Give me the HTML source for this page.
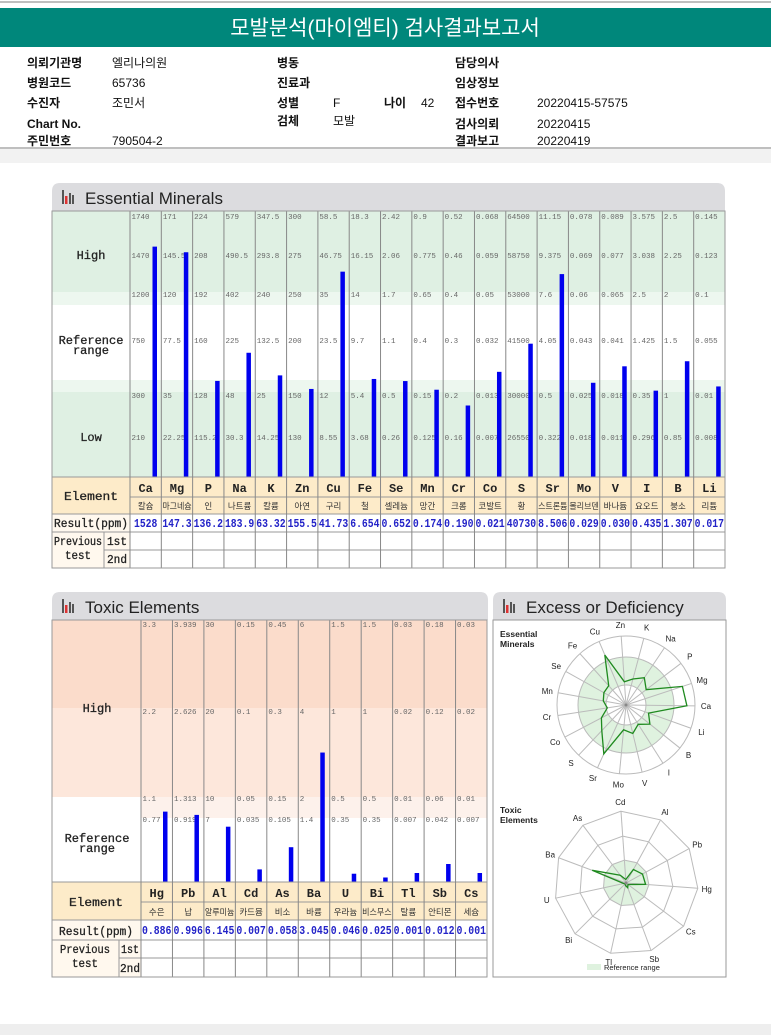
<!DOCTYPE html>
<html><head><meta charset="utf-8">
<style>
html,body{margin:0;padding:0;background:#fff;width:771px;height:1035px;overflow:hidden}
svg{display:block}
</style></head>
<body>
<svg id="root" width="771" height="1035" xmlns="http://www.w3.org/2000/svg" font-family="'Liberation Sans','Noto Sans CJK KR',sans-serif">
<rect x="0" y="0" width="771" height="1035" fill="#fff"/>
<line x1="0" y1="2" x2="771" y2="2" stroke="#aaa" stroke-width="1.5"/>
<rect x="0" y="8" width="771" height="39" fill="#00877b"/>
<text x="385" y="35" fill="#fff" font-size="21" text-anchor="middle" font-family="'Liberation Sans','Noto Sans CJK KR',sans-serif">모발분석(마이엠티) 검사결과보고서</text>
<g id="info" font-size="12" fill="#111"></g>
<line x1="0" y1="148" x2="771" y2="148" stroke="#aaa" stroke-width="1.5"/>
<rect x="0" y="149" width="771" height="14" fill="#f2f2f2"/>
<rect x="0" y="1024" width="771" height="11" fill="#eeeeee"/>
<g id="ess"></g>
<g id="tox"></g>
<g id="radar"></g>
</svg>
<script>
// ===== Essential minerals data =====
const essSymbols = ["Ca","Mg","P","Na","K","Zn","Cu","Fe","Se","Mn","Cr","Co","S","Sr","Mo","V","I","B","Li"];
const essKorean = ["칼슘","마그네슘","인","나트륨","칼륨","아연","구리","철","셀레늄","망간","크롬","코발트","황","스트론튬","몰리브덴","바나듐","요오드","붕소","리튬"];
const essTicks = [
 ["1740","1470","1200","750","300","210"],
 ["171","145.5","120","77.5","35","22.25"],
 ["224","208","192","160","128","115.2"],
 ["579","490.5","402","225","48","30.3"],
 ["347.5","293.8","240","132.5","25","14.25"],
 ["300","275","250","200","150","130"],
 ["58.5","46.75","35","23.5","12","8.55"],
 ["18.3","16.15","14","9.7","5.4","3.68"],
 ["2.42","2.06","1.7","1.1","0.5","0.26"],
 ["0.9","0.775","0.65","0.4","0.15","0.125"],
 ["0.52","0.46","0.4","0.3","0.2","0.16"],
 ["0.068","0.059","0.05","0.032","0.013","0.007"],
 ["64500","58750","53000","41500","30000","26550"],
 ["11.15","9.375","7.6","4.05","0.5","0.322"],
 ["0.078","0.069","0.06","0.043","0.025","0.018"],
 ["0.089","0.077","0.065","0.041","0.018","0.011"],
 ["3.575","3.038","2.5","1.425","0.35","0.296"],
 ["2.5","2.25","2","1.5","1","0.85"],
 ["0.145","0.123","0.1","0.055","0.01","0.008"]
];
const essResults = ["1528","147.3","136.2","183.9","63.32","155.5","41.73","6.654","0.652","0.174","0.190","0.021","40730","8.506","0.029","0.030","0.435","1.307","0.017"];

// ===== Toxic elements data =====
const toxSymbols = ["Hg","Pb","Al","Cd","As","Ba","U","Bi","Tl","Sb","Cs"];
const toxKorean = ["수은","납","알루미늄","카드뮴","비소","바륨","우라늄","비스무스","탈륨","안티몬","세슘"];
const toxTicks = [
 ["3.3","2.2","1.1","0.77"],
 ["3.939","2.626","1.313","0.919"],
 ["30","20","10","7"],
 ["0.15","0.1","0.05","0.035"],
 ["0.45","0.3","0.15","0.105"],
 ["6","4","2","1.4"],
 ["1.5","1","0.5","0.35"],
 ["1.5","1","0.5","0.35"],
 ["0.03","0.02","0.01","0.007"],
 ["0.18","0.12","0.06","0.042"],
 ["0.03","0.02","0.01","0.007"]
];
const toxResults = ["0.886","0.996","6.145","0.007","0.058","3.045","0.046","0.025","0.001","0.012","0.001"];

// radar axis orders (clockwise from top)
const essRadarOrder = ["Zn","K","Na","P","Mg","Ca","Li","B","I","V","Mo","Sr","S","Co","Cr","Mn","Se","Fe","Cu"];
const toxRadarOrder = ["Cd","Al","Pb","Hg","Cs","Sb","Tl","Bi","U","Ba","As"];

const NS = "http://www.w3.org/2000/svg";
function mk(tag, attrs, parent){const e=document.createElementNS(NS,tag);for(const k in attrs)e.setAttribute(k,attrs[k]);parent.appendChild(e);return e;}
function txt(s, attrs, parent){const e=mk("text",attrs,parent);e.textContent=s;return e;}
const MONO="'Liberation Mono','Noto Sans CJK KR',monospace";
const KR="'Liberation Sans','Noto Sans CJK KR',sans-serif";

// ===== Info block =====
const info=document.getElementById("info");
const infoItems=[
 ["의뢰기관명",27,63,true],["엘리나의원",112,63,false],["병동",277,63,true],["담당의사",455,63,true],
 ["병원코드",27,83,true],["65736",112,83,false],["진료과",277,83,true],["임상정보",455,83,true],
 ["수진자",27,103,true],["조민서",112,103,false],["성별",277,103,true],["F",333,103,false],["나이",384,103,true],["42",421,103,false],["접수번호",455,103,true],["20220415-57575",537,103,false],
 ["Chart No.",27,124,true],["검체",277,121,true],["모발",333,121,false],["검사의뢰",455,124,true],["20220415",537,124,false],
 ["주민번호",27,141,true],["790504-2",112,141,false],["결과보고",455,141,true],["20220419",537,141,false]
];
infoItems.forEach(it=>{
 const t=txt(it[0],{x:it[1],y:it[2]+4,"font-size":12,"font-weight":it[3]?"bold":"normal","font-family":KR,fill:"#111"},info);
 
 
});

// ===== panel header helper =====
function panelHeader(g,x,y,w,h,title,name){
 const p=mk("path",{d:`M${x} ${y+h} L${x} ${y+8} Q${x} ${y} ${x+8} ${y} L${x+w-8} ${y} Q${x+w} ${y} ${x+w} ${y+8} L${x+w} ${y+h} Z`,fill:"#dcdcdf"},g);
 
 
 mk("rect",{x:x+10,y:y+7,width:2,height:14,fill:"#555"},g);
 mk("rect",{x:x+13,y:y+13,width:2.5,height:8,fill:"#d33"},g);
 mk("rect",{x:x+17,y:y+10,width:2,height:11,fill:"#555"},g);
 mk("rect",{x:x+20,y:y+12,width:2,height:9,fill:"#555"},g);
 const t=txt(title,{x:x+33,y:y+21,"font-size":17,fill:"#222","font-family":KR},g);
 
 
}
function fit(t,w){t.setAttribute("textLength",w);t.setAttribute("lengthAdjust","spacingAndGlyphs");}

// ===== Essential chart =====
const eg=document.getElementById("ess");
panelHeader(eg,52,183,673,28,"Essential Minerals","essential-minerals");
const E={x0:52,lx:130,rx:725,top:211,bot:477,lev:[216,255,294,340,395,437]};
const ecw=(E.rx-E.lx)/essSymbols.length;
[[211,292,"#dff0e3"],[292,305,"#edf7ef"],[305,380,"#ffffff"],[380,392,"#edf7ef"],[392,477,"#dff0e3"]].forEach(b=>{
 const r=mk("rect",{x:E.x0,y:b[0],width:E.rx-E.x0,height:b[1]-b[0],fill:b[2]},eg);
 
 
});
[["High",255],["Reference",340],["range",350],["Low",437]].forEach(l=>{
 const t=txt(l[0],{x:91,y:l[1]+4,"font-size":12,"font-family":MONO,"text-anchor":"middle",fill:"#222","stroke":"#222","stroke-width":0.3},eg);
 
 
});
function essY(i,v){
 const t=essTicks[i].map(Number), L=E.lev;
 if(v>=t[0]) return Math.max(E.top, L[0]-(v-t[0])/(t[0]-t[1])*(L[1]-L[0]));
 for(let k=0;k<5;k++){ if(v<=t[k]&&v>=t[k+1]) return L[k+1]-(v-t[k+1])/(t[k]-t[k+1])*(L[k+1]-L[k]); }
 return E.bot-(v/t[5])*(E.bot-L[5]);
}
essSymbols.forEach((s,i)=>{
 const cx=E.lx+i*ecw;
 essTicks[i].forEach((tk,k)=>{
  const t=txt(tk,{x:cx+1.5,y:E.lev[k]+3,"font-size":7.5,fill:"#666","font-family":MONO},eg);
  
  
 });
 const yb=essY(i,parseFloat(essResults[i]));
 const b=mk("rect",{x:cx+22.5,y:yb,width:4.5,height:E.bot-yb,fill:"#0000ee"},eg);
 
 
});
mk("rect",{x:E.x0,y:477,width:E.rx-E.x0,height:37,fill:"#fdebc9"},eg);
mk("rect",{x:E.x0,y:514,width:E.rx-E.x0,height:54,fill:"#fff"},eg);
mk("rect",{x:E.x0,y:514,width:E.lx-E.x0,height:54,fill:"#fff8ee"},eg);
[477,497,514,532,550,568].forEach(y=>{mk("line",{x1:y==497?E.lx:(y==550?104:E.x0),y1:y,x2:E.rx,y2:y,stroke:"#999","stroke-width":1},eg);});
mk("line",{x1:104,y1:532,x2:104,y2:568,stroke:"#999"},eg);
for(let i=0;i<=essSymbols.length;i++){mk("line",{x1:E.lx+i*ecw,y1:E.top,x2:E.lx+i*ecw,y2:568,stroke:"#888","stroke-width":1},eg);}
mk("rect",{x:E.x0,y:E.top,width:E.rx-E.x0,height:568-E.top,fill:"none",stroke:"#999"},eg);
[["Element",91,500,54],["Result(ppm)",91,527,74],["Previous",78,545,48],["test",78,559,26],["1st",117,545,20],["2nd",117,563,20]].forEach(l=>{
 const t=txt(l[0],{x:l[1],y:l[2],"font-size":12,"font-family":MONO,"text-anchor":"middle",fill:"#222","stroke":"#222","stroke-width":0.3},eg);
 fit(t,l[3]);
 
 
});
essSymbols.forEach((s,i)=>{
 const cx=E.lx+i*ecw+ecw/2;
 const a=txt(s,{x:cx,y:492,"font-size":12,"font-weight":"bold","font-family":MONO,"text-anchor":"middle",fill:"#222"},eg);
 
 
 const k=txt(essKorean[i],{x:cx,y:509,"font-size":8.5,"font-family":KR,"text-anchor":"middle",fill:"#333"},eg);
 if(essKorean[i].length>3)fit(k,ecw-2);
 
 
 const r=txt(essResults[i],{x:cx,y:527,"font-size":11.5,"font-weight":"bold","font-family":MONO,"text-anchor":"middle",fill:"#2323c8"},eg);
 fit(r,essResults[i].length>=5?ecw-2:ecw-8);
 
 
});

// ===== Toxic chart =====
const tg=document.getElementById("tox");
panelHeader(tg,52,592,436,28,"Toxic Elements","toxic-elements");
const T={x0:52,lx:141,rx:487,top:620,bot:882,lev:[624,711,798,819]};
const tcw=(T.rx-T.lx)/toxSymbols.length;
[[620,708,"#fbdccb"],[708,797,"#fde7db"],[797,818,"#fdf1eb"],[818,882,"#ffffff"]].forEach(b=>{
 const r=mk("rect",{x:T.lx,y:b[0],width:T.rx-T.lx,height:b[1]-b[0],fill:b[2]},tg);
 
 
});
mk("rect",{x:T.x0,y:620,width:T.lx-T.x0,height:88,fill:"#fbdccb"},tg);
mk("rect",{x:T.x0,y:708,width:T.lx-T.x0,height:89,fill:"#fde7db"},tg);
[["High",708],["Reference",838],["range",848]].forEach(l=>{
 const t=txt(l[0],{x:97,y:l[1]+4,"font-size":12,"font-family":MONO,"text-anchor":"middle",fill:"#222","stroke":"#222","stroke-width":0.3},tg);
 
 
});
function toxY(i,v){
 const t=toxTicks[i].map(Number), L=T.lev;
 if(v>=t[0]) return Math.max(T.top, L[0]-(v-t[0])/(t[0]-t[1])*(L[1]-L[0]));
 for(let k=0;k<3;k++){ if(v<=t[k]&&v>=t[k+1]) return L[k+1]-(v-t[k+1])/(t[k]-t[k+1])*(L[k+1]-L[k]); }
 return T.bot-(v/t[3])*(T.bot-L[3]);
}
toxSymbols.forEach((s,i)=>{
 const cx=T.lx+i*tcw;
 toxTicks[i].forEach((tk,k)=>{
  const t=txt(tk,{x:cx+1.5,y:T.lev[k]+3,"font-size":7.5,fill:"#666","font-family":MONO},tg);
  
  
 });
 const yb=toxY(i,parseFloat(toxResults[i]));
 const b=mk("rect",{x:cx+22,y:yb,width:4.5,height:T.bot-yb,fill:"#0000ee"},tg);
 
 
});
mk("rect",{x:T.x0,y:882,width:T.rx-T.x0,height:38,fill:"#fdebc9"},tg);
mk("rect",{x:T.x0,y:920,width:T.rx-T.x0,height:57,fill:"#fff"},tg);
mk("rect",{x:T.x0,y:920,width:T.lx-T.x0,height:57,fill:"#fff8ee"},tg);
[882,902,920,940,958,977].forEach(y=>{mk("line",{x1:y==902?T.lx:(y==958?119:T.x0),y1:y,x2:T.rx,y2:y,stroke:"#999"},tg);});
mk("line",{x1:119,y1:940,x2:119,y2:977,stroke:"#999"},tg);
for(let i=0;i<=toxSymbols.length;i++){mk("line",{x1:T.lx+i*tcw,y1:T.top,x2:T.lx+i*tcw,y2:977,stroke:"#888"},tg);}
mk("rect",{x:T.x0,y:T.top,width:T.rx-T.x0,height:977-T.top,fill:"none",stroke:"#999"},tg);
[["Element",96,906,54],["Result(ppm)",96,935,74],["Previous",85,953,50],["test",85,967,26],["1st",130,953,18],["2nd",130,972,20]].forEach(l=>{
 const t=txt(l[0],{x:l[1],y:l[2],"font-size":12,"font-family":MONO,"text-anchor":"middle",fill:"#222","stroke":"#222","stroke-width":0.3},tg);
 fit(t,l[3]);
 
 
});
toxSymbols.forEach((s,i)=>{
 const cx=T.lx+i*tcw+tcw/2;
 const a=txt(s,{x:cx,y:897,"font-size":12,"font-weight":"bold","font-family":MONO,"text-anchor":"middle",fill:"#222"},tg);
 
 
 const k=txt(toxKorean[i],{x:cx,y:915,"font-size":8.5,"font-family":KR,"text-anchor":"middle",fill:"#333"},tg);
 if(toxKorean[i].length>3)fit(k,tcw-2);
 
 
 const r=txt(toxResults[i],{x:cx,y:934,"font-size":11.5,"font-weight":"bold","font-family":MONO,"text-anchor":"middle",fill:"#2323c8"},tg);
 fit(r,tcw-2);
 
 
});

// ===== Radar =====
const rg=document.getElementById("radar");
panelHeader(rg,493,592,233,28,"Excess or Deficiency","excess-deficiency");
mk("rect",{x:493,y:620,width:233,height:357,fill:"#fff",stroke:"#999"},rg);
function ang(i,n){return (-90-4+i*360/n)*Math.PI/180;}
const ec={x:626,y:705}, eR=69;
const eAnn=mk("path",{d:`M${ec.x+48} ${ec.y} A48 48 0 1 0 ${ec.x-48} ${ec.y} A48 48 0 1 0 ${ec.x+48} ${ec.y} M${ec.x+20} ${ec.y} A20 20 0 1 1 ${ec.x-20} ${ec.y} A20 20 0 1 1 ${ec.x+20} ${ec.y}Z`,fill:"#dff2df","fill-rule":"evenodd"},rg);


[20,48,69].forEach(r=>mk("circle",{cx:ec.x,cy:ec.y,r:r,fill:"none",stroke:"#bbb"},rg));
const n1=essRadarOrder.length; let pts=[];
essRadarOrder.forEach((s,i)=>{
 const a=ang(i,n1);
 mk("line",{x1:ec.x,y1:ec.y,x2:ec.x+eR*Math.cos(a),y2:ec.y+eR*Math.sin(a),stroke:"#bbb"},rg);
 const l=txt(s,{x:ec.x+80*Math.cos(a),y:ec.y+80*Math.sin(a)+3,"font-size":8,"text-anchor":"middle",fill:"#222","font-family":KR},rg);
 
 
 const idx=essSymbols.indexOf(s);
 const f=(E.bot-essY(idx,parseFloat(essResults[idx])))/(E.bot-E.lev[0]);
 const r=Math.min(f,1.02)*eR;
 pts.push((ec.x+r*Math.cos(a)).toFixed(1)+","+(ec.y+r*Math.sin(a)).toFixed(1));
});
const ep=mk("polygon",{points:pts.join(" "),fill:"none",stroke:"#1f8a1f","stroke-width":1.3},rg);


mk("circle",{cx:ec.x,cy:ec.y,r:1.5,fill:"#888"},rg);
[["Essential",637],["Minerals",647]].forEach(l=>{const t=txt(l[0],{x:500,y:l[1],"font-size":8.5,"font-weight":"bold",fill:"#222","font-family":KR},rg);});
const tc={x:626,y:883}, tR=72;
const n2=toxRadarOrder.length;
function poly(r){let p=[];for(let i=0;i<n2;i++){const a=ang(i,n2);p.push((tc.x+r*Math.cos(a)).toFixed(1)+","+(tc.y+r*Math.sin(a)).toFixed(1));}return p.join(" ");}
const tRef=mk("polygon",{points:poly(23),fill:"#dff2df",stroke:"none"},rg);


[23,47,72].forEach(r=>mk("polygon",{points:poly(r),fill:"none",stroke:"#bbb"},rg));
pts=[];
toxRadarOrder.forEach((s,i)=>{
 const a=ang(i,n2);
 mk("line",{x1:tc.x,y1:tc.y,x2:tc.x+tR*Math.cos(a),y2:tc.y+tR*Math.sin(a),stroke:"#bbb"},rg);
 const l=txt(s,{x:tc.x+81*Math.cos(a),y:tc.y+81*Math.sin(a)+3,"font-size":8,"text-anchor":"middle",fill:"#222","font-family":KR},rg);
 
 
 const idx=toxSymbols.indexOf(s);
 const f=(T.bot-toxY(idx,parseFloat(toxResults[idx])))/(T.bot-T.lev[0]);
 const r=Math.min(f,1.02)*tR;
 pts.push((tc.x+r*Math.cos(a)).toFixed(1)+","+(tc.y+r*Math.sin(a)).toFixed(1));
});
const tp=mk("polygon",{points:pts.join(" "),fill:"none",stroke:"#1f8a1f","stroke-width":1.3},rg);


mk("circle",{cx:tc.x,cy:tc.y,r:1.5,fill:"#888"},rg);
[["Toxic",813],["Elements",823]].forEach(l=>{const t=txt(l[0],{x:500,y:l[1],"font-size":8.5,"font-weight":"bold",fill:"#222","font-family":KR},rg);});
const lg=mk("rect",{x:587,y:964,width:14,height:6,fill:"#dff2df"},rg);


const lt=txt("Reference range",{x:604,y:970,"font-size":7.5,fill:"#222","font-family":KR},rg);


</script>
</body></html>
